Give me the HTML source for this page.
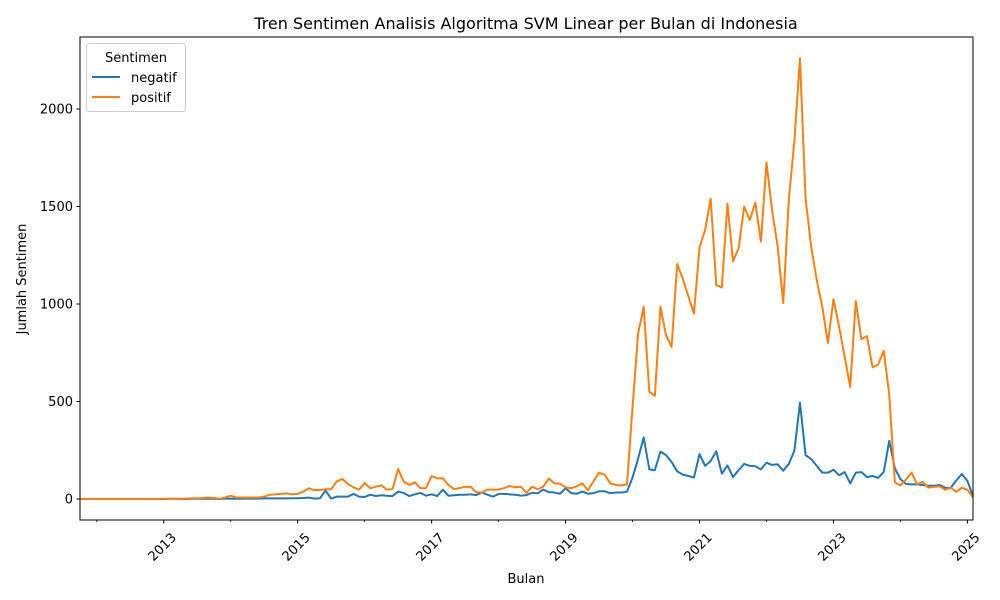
<!DOCTYPE html>
<html><head><meta charset="utf-8"><style>
html,body{margin:0;padding:0;background:#fff;}
svg{display:block;font-family:"DejaVu Sans","Liberation Sans",sans-serif;}
</style></head><body>
<svg id="chart" width="1000" height="600" viewBox="0 0 1000 600" xmlns="http://www.w3.org/2000/svg">
<rect width="1000" height="600" fill="#fff"/>
<text x="526" y="29" font-size="16" text-anchor="middle" fill="#000">Tren Sentimen Analisis Algoritma SVM Linear per Bulan di Indonesia</text>
<g id="plot"></g>
<text x="526" y="583" font-size="13" text-anchor="middle">Bulan</text>
<text transform="translate(26,279) rotate(-90)" font-size="13" text-anchor="middle">Jumlah Sentimen</text>
<g>
<rect x="86.5" y="43.5" width="99" height="68" rx="3" fill="#fff" stroke="#ccc" stroke-width="1"/>
<text x="136" y="62" font-size="13" text-anchor="middle">Sentimen</text>
<line x1="92" y1="77" x2="120" y2="77" stroke="#1f77b4" stroke-width="2"/>
<text x="131" y="82" font-size="13">negatif</text>
<line x1="92" y1="97" x2="120" y2="97" stroke="#ff7f0e" stroke-width="2"/>
<text x="131" y="102" font-size="13">positif</text>
</g>
</svg>
<script>
// Monthly data starting Oct 2011 (index 0) to Feb 2025 (index 160)
const startYear = 2011, startMonth = 9;
const negatif = [0,0,0,0,0,0,0,0,0,0,0,0,0,0,0,0,1,1,0,0,1,1,1,1,1,0,2,2,1,1,2,2,2,3,3,3,3,3,4,4,5,7,2,4,43,2,12,12,12,26,12,10,22,15,19,17,15,38,31,15,24,31,17,24,15,48,17,19,22,22,24,20,34,22,12,26,26,24,22,17,20,32,29,48,35,33,27,55,30,27,38,27,30,40,40,30,33,33,38,110,208,316,152,148,243,225,190,142,125,118,110,230,170,195,245,130,172,113,148,180,170,168,152,186,175,178,145,180,248,494,225,205,170,135,135,150,122,138,80,135,138,112,118,108,138,299,157,102,77,75,75,72,68,68,72,58,57,95,128,93,15];
const positif = [0,0,0,0,0,0,0,0,0,0,0,0,0,0,0,1,1,1,1,2,3,3,5,8,5,1,8,17,8,8,8,8,8,12,22,24,26,29,24,26,38,55,46,46,50,50,90,103,77,60,48,82,55,63,70,48,51,154,89,72,85,55,55,118,106,106,72,51,56,62,62,34,34,48,48,48,56,67,60,63,32,63,50,63,105,80,78,60,55,65,80,45,90,135,125,80,72,70,75,470,850,985,550,530,985,840,780,1205,1130,1040,950,1290,1380,1540,1097,1085,1515,1220,1285,1500,1430,1520,1320,1725,1480,1295,1005,1535,1840,2260,1540,1295,1123,985,800,1025,885,730,575,1015,820,835,675,690,760,533,85,70,100,135,75,88,58,62,65,48,58,37,58,47,8];
const yTicks = [0,500,1000,1500,2000];
const xTickYears = [2013,2015,2017,2019,2021,2023,2025];
const xMinorYears = [2012,2014,2016,2018,2020,2022,2024];

const L=80, R=973, T=37, B=520;
const n = positif.length;
const xScale = i => L + i*(R-L)/(n-1);
const yScale = v => 499 - v*0.195;
const yearIdx = y => (y - startYear)*12 - startMonth;
const NS="http://www.w3.org/2000/svg";
const g = document.getElementById('plot');
function mk(tag, attrs, parent){const e=document.createElementNS(NS,tag);for(const k in attrs)e.setAttribute(k,attrs[k]);(parent||g).appendChild(e);return e;}

function path(arr, color, name){
  let d='';
  arr.forEach((v,i)=>{d+=(i?'L':'M')+xScale(i).toFixed(2)+','+yScale(v).toFixed(2);});
  const p = mk('path',{d:d,fill:'none',stroke:color,'stroke-width':2,'stroke-linejoin':'round'});
  
  
}
path(negatif,'#1f77b4','line-negatif');
path(positif,'#ff7f0e','line-positif');

// axes frame
const fr = mk('rect',{x:L,y:T,width:R-L,height:B-T,fill:'none',stroke:'#000','stroke-width':1});



yTicks.forEach(v=>{
  const y=yScale(v);
  mk('line',{x1:L-3.5,y1:y,x2:L,y2:y,stroke:'#000','stroke-width':1});
  const t=mk('text',{x:L-7,y:y+4.5,'font-size':13,'text-anchor':'end'});
  t.textContent=v;
  
  
});
xMinorYears.forEach(yr=>{
  const x=xScale(yearIdx(yr));
  mk('line',{x1:x,y1:B,x2:x,y2:B+2,stroke:'#000','stroke-width':0.8});
});
xTickYears.forEach(yr=>{
  const x=xScale(yearIdx(yr));
  mk('line',{x1:x,y1:B,x2:x,y2:B+3.5,stroke:'#000','stroke-width':1});
  const t=mk('text',{x:0,y:0,'font-size':13,'text-anchor':'middle',transform:'translate('+(x+1.5)+','+550+') rotate(-45)'});
  t.textContent=yr;
  
  
});
</script>
</body></html>
